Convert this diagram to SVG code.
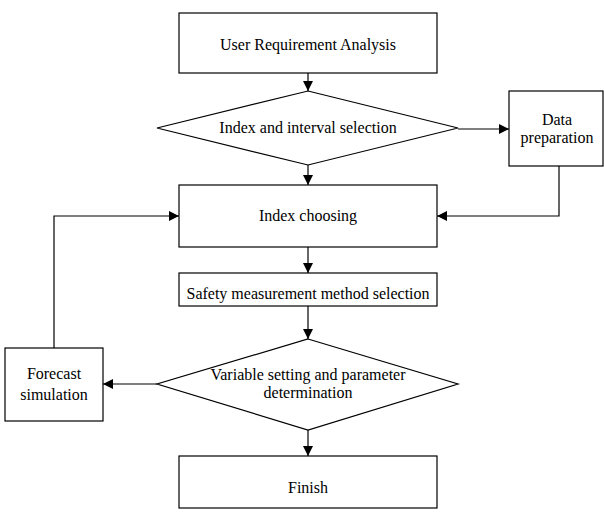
<svg xmlns="http://www.w3.org/2000/svg" width="604" height="519" viewBox="0 0 604 519">
<style>
.n{fill:#fff;stroke:#000;stroke-width:1.2}
.t{font-family:"Liberation Serif","Times New Roman",serif;font-size:16px;fill:#000;text-anchor:middle}
.c{fill:none;stroke:#000;stroke-width:1.2}
</style>
<defs>
<marker id="ah" viewBox="0 0 10 10" refX="10" refY="5" markerWidth="10" markerHeight="10" markerUnits="userSpaceOnUse" orient="auto">
<path d="M0,0 L10,5 L0,10 Z" fill="#000"/>
</marker>
</defs>
<rect width="604" height="519" fill="#fff"/>
<g id="connectors">
<path class="c" d="M308,73 V91" marker-end="url(#ah)"/>
<path class="c" d="M308,165 V185" marker-end="url(#ah)"/>
<path class="c" d="M458,129 H509" marker-end="url(#ah)"/>
<path class="c" d="M559,166 V216 H437" marker-end="url(#ah)"/>
<path class="c" d="M308,247 V273" marker-end="url(#ah)"/>
<path class="c" d="M308,306 V339" marker-end="url(#ah)"/>
<path class="c" d="M157,384 H103" marker-end="url(#ah)"/>
<path class="c" d="M54,348 V216 H179" marker-end="url(#ah)"/>
<path class="c" d="M308,430 V456" marker-end="url(#ah)"/>
</g>
<g id="n1"><rect class="n" x="179" y="13" width="258" height="60"/><text class="t" x="308" y="50">User Requirement Analysis</text></g>
<g id="n2"><polygon class="n" points="308,91 458,128 308,165 157,128"/><text class="t" x="308" y="133">Index and interval selection</text></g>
<g id="n3"><rect class="n" x="509" y="91" width="94" height="75"/><text class="t" x="557" y="125">Data</text><text class="t" x="557" y="143">preparation</text></g>
<g id="n4"><rect class="n" x="179" y="185" width="258" height="62"/><text class="t" x="308" y="221">Index choosing</text></g>
<g id="n5"><rect class="n" x="179" y="273" width="258" height="33"/><text class="t" x="308" y="299">Safety measurement method selection</text></g>
<g id="n6"><polygon class="n" points="308,339 458,384 308,430 157,384"/><text class="t" x="308" y="380">Variable setting and parameter</text><text class="t" x="308" y="398">determination</text></g>
<g id="n7"><rect class="n" x="5" y="348" width="98" height="73"/><text class="t" x="54" y="379">Forecast</text><text class="t" x="54" y="400">simulation</text></g>
<g id="n8"><rect class="n" x="179" y="456" width="258" height="52"/><text class="t" x="308" y="493">Finish</text></g>
</svg>
